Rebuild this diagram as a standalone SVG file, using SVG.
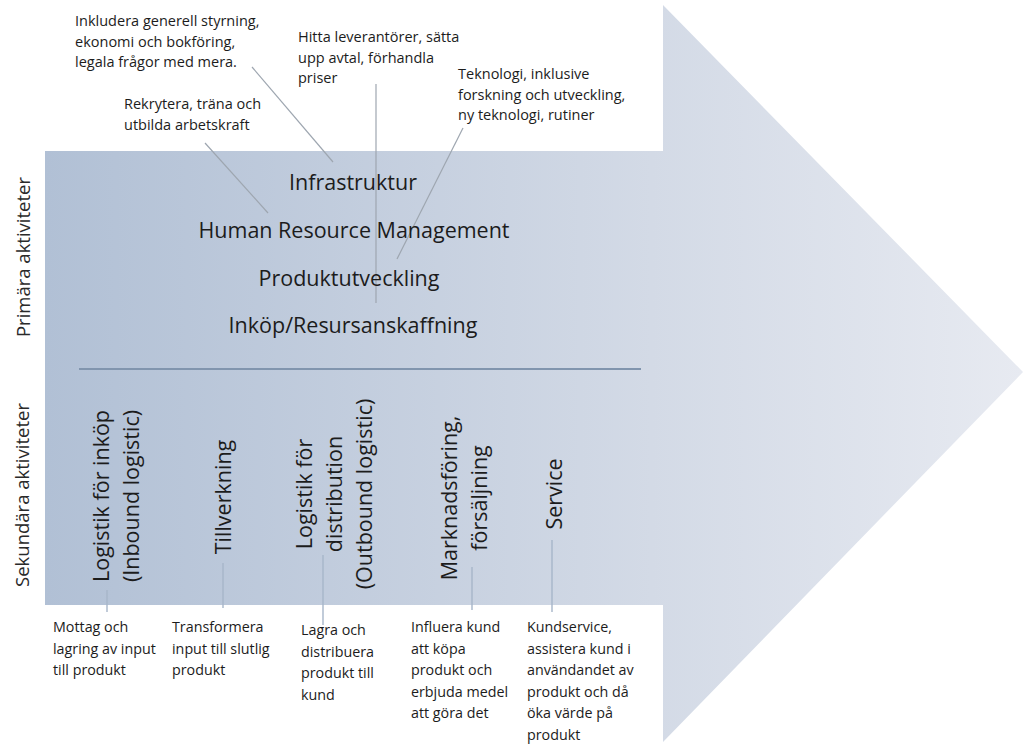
<svg xmlns="http://www.w3.org/2000/svg" width="1023" height="744" viewBox="0 0 1023 744">
<style>
text{font-family:"Open Sans","Liberation Sans",sans-serif;fill:#1c1c1c}
.h{font-size:21.5px;text-anchor:middle}
.r{font-size:21.5px;text-anchor:middle}
.a{font-size:14.5px}
.b{font-size:14.3px}
.s{font-size:18.5px;text-anchor:middle;fill:#2a2a2a}
.lead{stroke:#9ea6b0;stroke-width:1.2;fill:none}
.leadb{stroke:#a7b6c9;stroke-width:1.4;fill:none}
</style>
<defs>
<linearGradient id="g" gradientUnits="userSpaceOnUse" x1="45" y1="0" x2="1023" y2="0">
<stop offset="0" stop-color="#b1c0d5"/>
<stop offset="0.62" stop-color="#d3dae6"/>
<stop offset="1" stop-color="#e7eaf1"/>
</linearGradient>
</defs>
<rect width="1023" height="744" fill="#ffffff"/>
<g id="arrow">
<path d="M45,151 L663,151 L663,5 L1023,372 L663,742 L663,605 L45,605 Z" fill="url(#g)"/>
<line x1="79" y1="369" x2="641" y2="369" stroke="#8195ae" stroke-width="2"/>
</g>
<g id="side-labels">
<text class="s" transform="translate(30,257) rotate(-90)">Primära aktiviteter</text>
<text class="s" transform="translate(29,495) rotate(-90)">Sekundära aktiviteter</text>
</g>
<g id="connectors">
<line class="lead" x1="252" y1="67" x2="333" y2="162"/>
<line class="lead" x1="205" y1="143" x2="268" y2="213"/>
<line class="lead" x1="376" y1="84" x2="376" y2="303"/>
<line class="lead" x1="463" y1="128" x2="397" y2="259"/>
<line class="leadb" x1="107" y1="590" x2="107" y2="612"/>
<line class="leadb" x1="223" y1="563" x2="223" y2="608"/>
<line class="leadb" x1="323" y1="555" x2="323" y2="625"/>
<line class="leadb" x1="472" y1="567" x2="472" y2="610"/>
<line class="leadb" x1="552" y1="540" x2="552" y2="612"/>
</g>
<g id="infrastruktur"><text class="h" x="353" y="190">Infrastruktur</text></g>
<g id="hrm"><text class="h" x="354" y="238">Human Resource Management</text></g>
<g id="produktutveckling"><text class="h" x="349" y="286">Produktutveckling</text></g>
<g id="inkop"><text class="h" x="353" y="333">Inköp/Resursanskaffning</text></g>
<g id="note-infrastruktur"><text class="a" x="75" y="26">Inkludera generell styrning,<tspan x="75" dy="20.5">ekonomi och bokföring,</tspan><tspan x="75" dy="20.5">legala frågor med mera.</tspan></text></g>
<g id="note-hrm"><text class="a" x="124" y="109">Rekrytera, träna och<tspan x="124" dy="20.5">utbilda arbetskraft</tspan></text></g>
<g id="note-inkop"><text class="a" x="298" y="42">Hitta leverantörer, sätta<tspan x="298" dy="20.5">upp avtal, förhandla</tspan><tspan x="298" dy="20.5">priser</tspan></text></g>
<g id="note-produkt"><text class="a" x="458" y="79">Teknologi, inklusive<tspan x="458" dy="20.5">forskning och utveckling,</tspan><tspan x="458" dy="20.5">ny teknologi, rutiner</tspan></text></g>
<g id="inbound"><text class="r" transform="translate(109,496) rotate(-90)">Logistik för inköp<tspan x="0" dy="30">(Inbound  logistic)</tspan></text></g>
<g id="tillverkning"><text class="r" transform="translate(231,497) rotate(-90)">Tillverkning</text></g>
<g id="outbound"><text class="r" transform="translate(312,494) rotate(-90)">Logistik för<tspan x="0" dy="30">distribution</tspan><tspan x="0" dy="30">(Outbound  logistic)</tspan></text></g>
<g id="marknad"><text class="r" transform="translate(457,498) rotate(-90)">Marknadsföring,<tspan x="0" dy="30">försäljning</tspan></text></g>
<g id="service"><text class="r" transform="translate(562,494) rotate(-90)">Service</text></g>
<g id="note-inbound"><text class="b" x="53" y="632">Mottag och<tspan x="53" dy="21.5">lagring av input</tspan><tspan x="53" dy="21.5">till produkt</tspan></text></g>
<g id="note-tillverkning"><text class="b" x="172" y="632">Transformera<tspan x="172" dy="21.5">input till slutlig</tspan><tspan x="172" dy="21.5">produkt</tspan></text></g>
<g id="note-outbound"><text class="b" x="301" y="635">Lagra och<tspan x="301" dy="21.5">distribuera</tspan><tspan x="301" dy="21.5">produkt till</tspan><tspan x="301" dy="21.5">kund</tspan></text></g>
<g id="note-marknad"><text class="b" x="411" y="632">Influera kund<tspan x="411" dy="21.5">att köpa</tspan><tspan x="411" dy="21.5">produkt och</tspan><tspan x="411" dy="21.5">erbjuda medel</tspan><tspan x="411" dy="21.5">att göra det</tspan></text></g>
<g id="note-service"><text class="b" x="527" y="632">Kundservice,<tspan x="527" dy="21.5">assistera kund i</tspan><tspan x="527" dy="21.5">användandet av</tspan><tspan x="527" dy="21.5">produkt och då</tspan><tspan x="527" dy="21.5">öka värde på</tspan><tspan x="527" dy="21.5">produkt</tspan></text></g>
</svg>
